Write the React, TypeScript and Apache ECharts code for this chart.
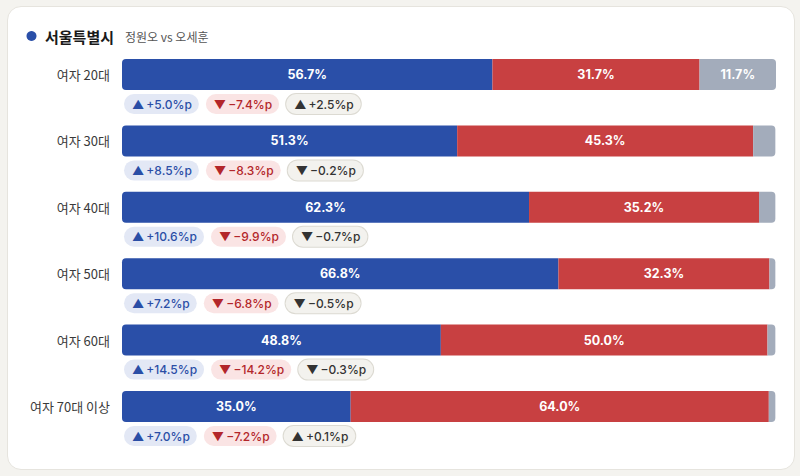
import React, { useEffect, useRef } from "react";
import * as echarts from "echarts";

const categories = ["여자 20대", "여자 30대", "여자 40대", "여자 50대", "여자 60대", "여자 70대 이상"];
const chungValues = [56.7, 51.3, 62.3, 66.8, 48.8, 35.0];
const ohValues = [31.7, 45.3, 35.2, 32.3, 50.0, 64.0];
const otherValues = [11.7, 3.4, 2.5, 0.9, 1.2, 1.0];
const chungChange = [5.0, 8.5, 10.6, 7.2, 14.5, 7.0];
const ohChange = [-7.4, -8.3, -9.9, -6.8, -14.2, -7.2];
const otherChange = [2.5, -0.2, -0.7, -0.5, -0.3, 0.1];

const FONT = 'Inter, "Noto Sans CJK KR", sans-serif';
const BFONT = 'Inter, "DejaVu Sans", sans-serif';
const KFONT = '"Noto Sans CJK KR", Inter, sans-serif';

const BLUE = "#2a4fa8";
const RED = "#c84041";
const GRAY = "#a3acbb";

function fmt(v: number): string {
  const tri = v >= 0 ? "▲" : "▼";
  const sign = v >= 0 ? "+" : "−";
  return `${tri}\u2009${sign}${Math.abs(v).toFixed(1)}%p`;
}

const badgeBase = {
  fontSize: 12,
  fontWeight: 500,
  fontFamily: BFONT,
  lineHeight: 20,
  height: 20,
  borderRadius: 10,
  padding: [0, 7, 0, 8],
};

export default function App() {
  const ref = useRef<HTMLDivElement>(null);

  useEffect(() => {
    document.body.style.margin = "0";
    if (!ref.current) return;
    const chart = echarts.init(ref.current, undefined, { renderer: "svg" });
    const barLabel = (minShow: number) => ({
      show: true,
      position: "inside" as const,
      color: "#fff",
      fontFamily: FONT,
      fontWeight: 700,
      fontSize: 12.5,
      formatter: (p: any) => (p.value >= minShow ? `${Number(p.value).toFixed(1)}%` : ""),
    });
    chart.setOption({
      animation: false,
      grid: { left: 122, right: 24, top: 41.3, bottom: 36.3, containLabel: false },
      xAxis: {
        type: "value",
        min: 0,
        max: (v: any) => v.max,
        show: false,
      },
      yAxis: {
        type: "category",
        data: categories,
        inverse: true,
        axisLine: { show: false },
        axisTick: { show: false },
        splitLine: { show: false },
        axisLabel: {
          margin: 12,
          fontSize: 13,
          color: "#3a3a3a",
          fontFamily: KFONT,
        },
      },
      graphic: [
        { type: "circle", shape: { cx: 31.5, cy: 36, r: 5 }, style: { fill: BLUE } },
        {
          type: "text",
          x: 45,
          y: 36,
          style: {
            text: "서울특별시",
            fontSize: 15,
            fontWeight: 700,
            fontFamily: KFONT,
            fill: "#1a1a1a",
            verticalAlign: "middle",
          },
        },
        {
          type: "text",
          x: 125,
          y: 36.5,
          style: {
            text: "정원오 vs 오세훈",
            fontSize: 12,
            fontFamily: KFONT,
            fill: "#555",
            verticalAlign: "middle",
          },
        },
      ],
      series: [
        {
          name: "정원오",
          type: "bar",
          stack: "s",
          barWidth: 31,
          data: chungValues,
          itemStyle: { color: BLUE, borderRadius: [4, 0, 0, 4] },
          label: barLabel(5),
        },
        {
          name: "오세훈",
          type: "bar",
          stack: "s",
          barWidth: 31,
          data: ohValues,
          itemStyle: { color: RED },
          label: barLabel(5),
        },
        {
          name: "기타",
          type: "bar",
          stack: "s",
          barWidth: 31,
          data: otherValues,
          itemStyle: { color: GRAY, borderRadius: [0, 4, 4, 0] },
          label: barLabel(5),
        },
        {
          type: "custom",
          data: categories.map((_, i) => [0, i]),
          encode: { x: 0, y: 1 },
          silent: true,
          z: 5,
          renderItem: (params: any, api: any) => {
            const idx = api.value(1);
            const p = api.coord([0, idx]);
            const text =
              `{b|${fmt(chungChange[idx])}}{s| }{r|${fmt(ohChange[idx])}}{s| }{g|${fmt(otherChange[idx])}}`;
            return {
              type: "text",
              x: p[0] + 2,
              y: p[1] + 15.5 + 4,
              style: {
                text,
                align: "left",
                verticalAlign: "top",
                rich: {
                  b: { ...badgeBase, backgroundColor: "#e3e8f5", fill: "#2a4ea6" },
                  r: { ...badgeBase, backgroundColor: "#fae4e4", fill: "#b3262a" },
                  g: {
                    ...badgeBase,
                    backgroundColor: "#f3f2ee",
                    borderColor: "#dcdad2",
                    borderWidth: 1,
                    fill: "#333",
                  },
                  s: { width: 7, fontSize: 12, lineHeight: 20, height: 20 },
                },
              },
            };
          },
        },
      ],
    });
    return () => chart.dispose();
  }, []);

  return (
    <div style={{ position: "relative", width: 800, height: 476, background: "#f4f3ef", overflow: "hidden" }}>
      <div
        style={{
          position: "absolute",
          left: 7,
          top: 6,
          width: 786,
          height: 462,
          background: "#fff",
          border: "1px solid #e6e4de",
          borderRadius: 14,
        }}
      />
      <div ref={ref} style={{ position: "absolute", left: 0, top: 0, width: 800, height: 476 }} />
    </div>
  );
}
